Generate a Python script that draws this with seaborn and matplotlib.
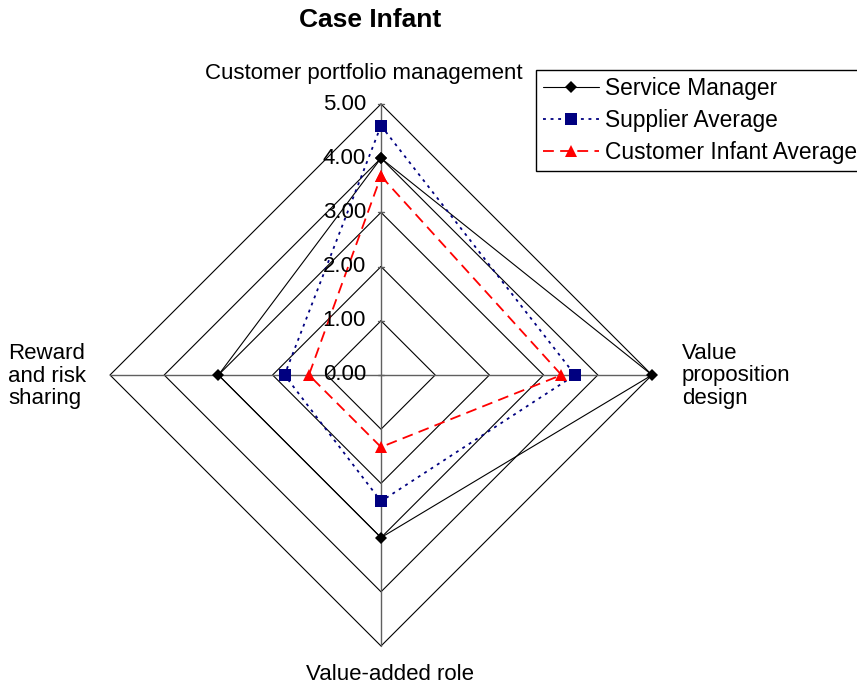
import numpy as np
import pandas as pd
import matplotlib
matplotlib.use("Agg")
import matplotlib.pyplot as plt
import seaborn as sns

# Radar dimensions, clockwise from the top
categories = ["Customer portfolio management", "Value proposition design",
              "Value-added role", "Reward and risk sharing"]
service_manager = [4.0, 5.0, 3.0, 3.0]
supplier_average = [4.6, 3.58, 2.33, 1.78]
customer_infant_average = [3.67, 3.33, 1.33, 1.33]
tick_labels = ["0.00", "1.00", "2.00", "3.00", "4.00", "5.00"]
levels = [0, 1, 2, 3, 4, 5]

sns.set_style("white")
plt.rcParams["font.family"] = ["Liberation Sans", "DejaVu Sans"]
plt.rcParams["text.color"] = "black"

W, H = 857, 689
fig = plt.figure(figsize=(W / 100, H / 100), dpi=100)
ax = fig.add_axes([0, 0, 1, 1])
cx, cy, unit = 381, 375, 54.2
ax.set_xlim(-cx / unit, (W - cx) / unit)
ax.set_ylim(-(H - cy) / unit, cy / unit)
ax.axis("off")

n = len(categories)
angles = np.arange(n) * 2 * np.pi / n  # clockwise from the top


def to_xy(values):
    v = np.asarray(values, dtype=float)
    xs = v * np.sin(angles)
    ys = v * np.cos(angles)
    return np.append(xs, xs[0]), np.append(ys, ys[0])


rmax = levels[-1]
# polygon gridlines
for r in levels[1:]:
    gx, gy = to_xy([r] * n)
    ax.plot(gx, gy, color="black", lw=0.8, zorder=1)
# spokes
for a in angles:
    ax.plot([0, rmax * np.sin(a)], [0, rmax * np.cos(a)], color="#606060",
            lw=1.0, zorder=1)
# tick marks and labels on the top spoke
tick_half = 3 / unit
for r, lab in zip(levels, tick_labels):
    ax.plot([-tick_half, tick_half], [r, r], color="#606060", lw=1.0, zorder=1)
    ax.text(-15 / unit, r, lab, ha="right", va="center", fontsize=16,
            color="black", zorder=5)

series = [
    ("Service Manager", service_manager,
     dict(color="black", lw=0.8, linestyle="-", marker="D", markersize=6.5)),
    ("Supplier Average", supplier_average,
     dict(color="#000080", lw=1.3, linestyle=(0, (1.6, 2.6)), marker="s",
          markersize=8.5)),
    ("Customer Infant Average", customer_infant_average,
     dict(color="#ff0000", lw=1.3, linestyle=(0, (6, 3.5)), marker="^",
          markersize=9)),
]

for name, vals, style in series:
    xs, ys = to_xy(vals)
    df = pd.DataFrame({"x": xs, "y": ys})
    sns.lineplot(data=df, x="x", y="y", sort=False, estimator=None, ax=ax,
                 label=name, markeredgewidth=0, zorder=3,
                 markerfacecolor=style["color"], **style)

leg = ax.legend(loc="upper left", bbox_to_anchor=(536 / W, 1 - 70 / H),
                bbox_transform=fig.transFigure, fontsize=16.4, frameon=True,
                fancybox=False, edgecolor="black", framealpha=1,
                borderpad=0.3, handlelength=2.45, handletextpad=0.27,
                labelspacing=0.4, borderaxespad=0)
leg.get_frame().set_linewidth(1.0)
for t in leg.get_texts():
    t.set_color("black")

fig.text(370 / W, 1 - 20 / H, "Case Infant", ha="center", va="center",
         fontsize=19, fontweight="bold")
fig.text(364 / W, 1 - 74 / H, categories[0], ha="center", va="center",
         fontsize=16)
fig.text(682 / W, 1 - 376 / H, "Value\nproposition\ndesign", ha="left",
         va="center", fontsize=16, linespacing=1.1)
fig.text(390 / W, 1 - 674 / H, categories[2], ha="center", va="center",
         fontsize=16)
fig.text(8 / W, 1 - 376 / H, "Reward\nand risk\nsharing", ha="left",
         va="center", fontsize=16, linespacing=1.1)

fig.savefig("out.png", dpi=100)
